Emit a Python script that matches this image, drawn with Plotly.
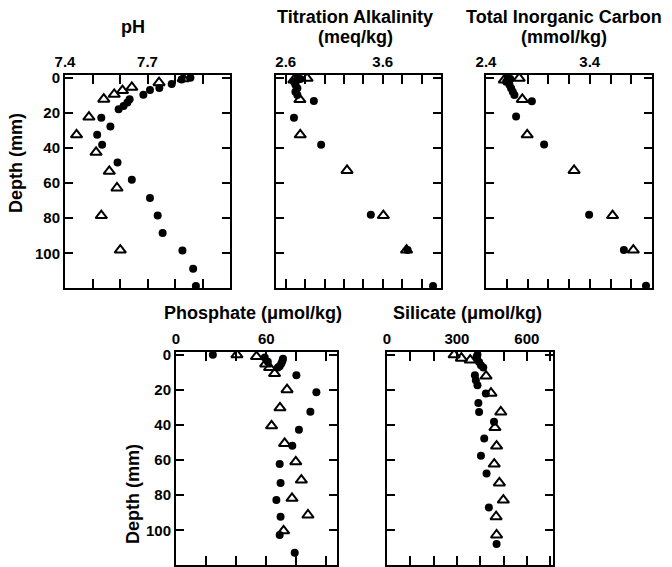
import plotly.graph_objects as go

# ---------------- data (depth in mm) ----------------
ph_dot_depth = [0, 0.9, 3.5, 5.8, 6.9, 9.6, 12.2, 14.1, 16, 17.9, 22.7, 27.8, 32.5, 38.2,
                48.2, 58.1, 68.5, 78.5, 88.4, 98.4, 108.8, 118.7]
ph_dot_val = [7.856, 7.824, 7.788, 7.743, 7.709, 7.685, 7.635, 7.627, 7.613, 7.595, 7.532,
              7.565, 7.517, 7.535, 7.591, 7.643, 7.709, 7.737, 7.755, 7.827, 7.866, 7.876]
ph_tri_depth = [0.5, 2.8, 5.4, 7.3, 9.4, 12.2, 22.4, 32.5, 42.5, 53.3, 62.8, 78.5, 98.2]
ph_tri_val = [7.83, 7.742, 7.643, 7.609, 7.579, 7.541, 7.487, 7.442, 7.513, 7.561, 7.589,
              7.532, 7.601]

ta_dot_depth = [0, 0.7, 2.2, 4, 6, 7.9, 9.8, 13.2, 22.7, 38.2, 78, 98.2, 118.7]
ta_dot_val = [2.72, 2.75, 2.685, 2.70, 2.72, 2.70, 2.72, 2.89, 2.685, 2.965, 3.477, 3.856, 4.118]
ta_tri_depth = [0.3, 1.2, 12.4, 32.5, 52.8, 78.5, 98.2]
ta_tri_val = [2.82, 2.685, 2.746, 2.75, 3.232, 3.606, 3.845]

tic_dot_depth = [0, 0.7, 2.2, 4, 6, 7.9, 9.8, 13.4, 22.1, 38, 78, 98.2, 118.5]
tic_dot_val = [2.61, 2.635, 2.594, 2.626, 2.642, 2.658, 2.674, 2.842, 2.69, 2.96, 3.394,
               3.729, 3.942]
tic_tri_depth = [0.3, 1.2, 12.3, 32.5, 52.8, 78.5, 98.2]
tic_tri_val = [2.72, 2.577, 2.75, 2.797, 3.249, 3.62, 3.82]

po4_dot_depth = [0, 1.5, 4, 2.2, 3.5, 5, 6.5, 7.3, 11.7, 21.3, 32.4, 42.7, 51.9, 62.3, 73,
                 82.8, 92.3, 102.7, 112.8]
po4_dot_val = [24.5, 59, 61, 71.1, 70.7, 70, 68.9, 67.7, 80, 93.3, 89.3, 81.7, 77.3, 68.9,
               69.5, 66.7, 69.5, 68.9, 78.9]
po4_tri_depth = [0, 1, 5.2, 7.3, 10.7, 19.9, 30.2, 40.5, 50.5, 61, 71.4, 81.8, 91.3, 100.3]
po4_tri_val = [40.5, 53.5, 59.6, 62.2, 65.5, 73.8, 69.1, 63.5, 72.2, 79.6, 83.3, 77.1, 87.7,
               71.5]

si_dot_depth = [0, 1.2, 4.1, 6, 7.3, 11.7, 14.5, 17.4, 22.1, 27.5, 32.6, 38.2, 47.7, 57.6,
                67.6, 87, 107.9]
si_dot_val = [388, 384, 395, 403, 413, 377, 381, 388, 424, 392, 395, 459, 417, 403, 427, 437,
              470]
si_tri_depth = [0, 1.9, 3, 12.1, 21.9, 32.6, 41.5, 52, 62.3, 73, 82.8, 92.3, 102.7]
si_tri_val = [288, 319, 357, 425, 446, 488, 463, 470, 460, 482, 499, 468, 470]

depth_ticks = [0, 20, 40, 60, 80, 100]
depth_range = [119.8, -1.6]

panels = [
    dict(dot=(ph_dot_val, ph_dot_depth), tri=(ph_tri_val, ph_tri_depth),
         xr=[7.4, 8.0], tv=[7.4, 7.5, 7.6, 7.7, 7.8, 7.9],
         tt=["7.4", "", "", "7.7", "", ""], dom_x=[65, 230], row=0, ylab=True),
    dict(dot=(ta_dot_val, ta_dot_depth), tri=(ta_tri_val, ta_tri_depth),
         xr=[2.5, 4.2], tv=[2.6, 2.8, 3.0, 3.2, 3.4, 3.6, 3.8, 4.0],
         tt=["2.6", "", "", "", "", "3.6", "", ""], dom_x=[276, 441], row=0, ylab=False),
    dict(dot=(tic_dot_val, tic_dot_depth), tri=(tic_tri_val, tic_tri_depth),
         xr=[2.4, 4.0], tv=[2.4, 2.6, 2.8, 3.0, 3.2, 3.4, 3.6, 3.8],
         tt=["2.4", "", "", "", "", "3.4", "", ""], dom_x=[486, 652], row=0, ylab=False),
    dict(dot=(po4_dot_val, po4_dot_depth), tri=(po4_tri_val, po4_tri_depth),
         xr=[0, 107], tv=[0, 20, 40, 60, 80, 100],
         tt=["0", "", "", "60", "", ""], dom_x=[176, 337], row=1, ylab=True),
    dict(dot=(si_dot_val, si_dot_depth), tri=(si_tri_val, si_tri_depth),
         xr=[0, 712], tv=[0, 100, 200, 300, 400, 500, 600, 700],
         tt=["0", "", "", "300", "", "", "600", ""], dom_x=[387, 553], row=1, ylab=False),
]

W, H = 672, 567
row_y = {0: [75, 288], 1: [352, 565]}

fig = go.Figure()
layout = dict(width=W, height=H, margin=dict(l=0, r=0, t=0, b=0, pad=0),
              template="none",
              paper_bgcolor="white", plot_bgcolor="white", showlegend=False,
              font=dict(family="Liberation Sans, Arial, sans-serif", color="black"))

for i, p in enumerate(panels, start=1):
    xa = "x" if i == 1 else f"x{i}"
    ya = "y" if i == 1 else f"y{i}"
    fig.add_trace(go.Scatter(x=p["dot"][0], y=p["dot"][1], mode="markers",
                             xaxis=xa, yaxis=ya,
                             marker=dict(symbol="circle", size=8, color="black")))
    fig.add_trace(go.Scatter(x=p["tri"][0], y=p["tri"][1], mode="markers",
                             xaxis=xa, yaxis=ya,
                             marker=dict(symbol="triangle-up-open", size=10, color="black",
                                         line=dict(width=2, color="black"))))
    x0, x1 = p["dom_x"]
    t0, t1 = row_y[p["row"]]
    layout[f"xaxis{'' if i == 1 else i}"] = dict(
        domain=[x0 / W, x1 / W], anchor=ya, side="top", range=p["xr"],
        tickmode="array", tickvals=p["tv"], ticktext=p["tt"], automargin=False,
        ticks="inside", ticklen=9, tickwidth=2, tickcolor="black",
        showline=True, linewidth=2, linecolor="black", mirror="allticks",
        showgrid=False, zeroline=False,
        tickfont=dict(size=15, weight="bold", color="black"))
    layout[f"yaxis{'' if i == 1 else i}"] = dict(
        domain=[1 - t1 / H, 1 - t0 / H], anchor=xa, range=depth_range,
        tickmode="array", tickvals=depth_ticks, automargin=False,
        ticks="inside", ticklen=8, tickwidth=2, tickcolor="black",
        showline=True, linewidth=2, linecolor="black", mirror="allticks",
        showgrid=False, zeroline=False, showticklabels=p["ylab"],
        tickfont=dict(size=15, weight="bold", color="black"))

fig.update_layout(**layout)

title_font = dict(size=18, color="black", family="Liberation Sans, Arial, sans-serif")
titles = [
    ("<b>pH</b>", 133, 27),
    ("<b>Titration Alkalinity</b>", 355, 17),
    ("<b>(meq/kg)</b>", 355, 37),
    ("<b>Total Inorganic Carbon</b>", 564, 17),
    ("<b>(mmol/kg)</b>", 564, 37),
    ("<b>Phosphate (\u03bcmol/kg)</b>", 253, 313),
    ("<b>Silicate (\u03bcmol/kg)</b>", 467, 313),
]
for text, x, y in titles:
    fig.add_annotation(text=text, x=x / W, y=1 - y / H, xref="paper", yref="paper",
                       showarrow=False, xanchor="center", yanchor="middle", font=title_font)
for x, y in [(16, 163), (133, 494)]:
    fig.add_annotation(text="<b>Depth (mm)</b>", x=x / W, y=1 - y / H, xref="paper",
                       yref="paper", showarrow=False, textangle=-90,
                       xanchor="center", yanchor="middle", font=title_font)

fig.write_html("out.html", config={"displayModeBar": False},
               post_script="document.body.style.margin='0';document.body.style.padding='0';")
